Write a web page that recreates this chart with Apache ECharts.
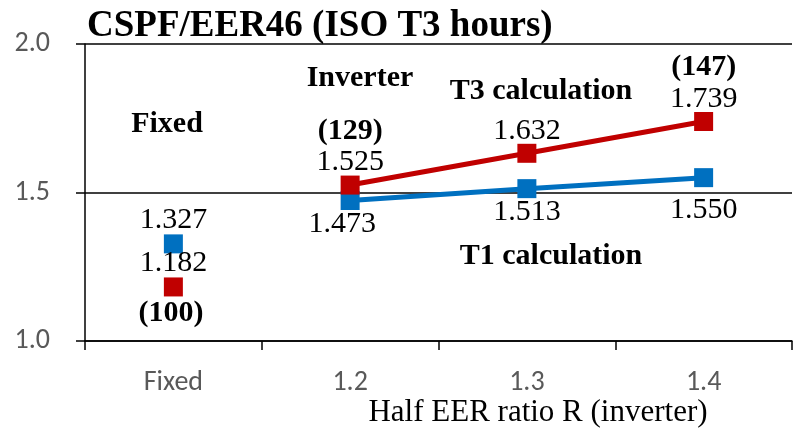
<!DOCTYPE html>
<html>
<head>
<meta charset="utf-8">
<script src="https://cdn.jsdelivr.net/npm/echarts@6/dist/echarts.min.js"></script>
<style>
  html, body { margin: 0; padding: 0; background: #fff; }
  #chart { width: 793px; height: 435px; }
</style>
</head>
<body>
<div id="chart"></div>
<script>
// categories on the x axis
var categories = ['Fixed', '1.2', '1.3', '1.4'];
// y axis ticks
var yTicks = [1.0, 1.5, 2.0];
// T1 calculation (blue)
var t1Fixed = [1.327, '-', '-', '-'];
var t1Inverter = ['-', 1.473, 1.513, 1.550];
// T3 calculation (red)
var t3Fixed = [1.182, '-', '-', '-'];
var t3Inverter = ['-', 1.525, 1.632, 1.739];
// index numbers shown above/below T3 points
var t3Index = ['(100)', '(129)', '', '(147)'];

var BLUE = '#0070C0', RED = '#C00000';
var SERIF = '"Liberation Serif", "Times New Roman", serif';
var SANS = 'Carlito, Lato, sans-serif';

var chart = echarts.init(document.getElementById('chart'));

function valueLabel(pos, dist) {
    return {
        show: true,
        position: pos,
        distance: dist,
        fontFamily: SERIF,
        fontSize: 30,
        lineHeight: 30,
        color: '#000',
        formatter: function (p) { return p.value.toFixed(3); }
    };
}

var t1InvData = t1Inverter.map(function (v, i) {
    if (i === 1) return { value: v, label: { offset: [-8, 0] } };
    if (i === 3) return { value: v, label: { distance: 8 } };
    return v;
});

var option = {
    animation: false,
    title: {
        text: 'CSPF/EER46 (ISO T3 hours)',
        left: 87,
        top: 8,
        padding: 0,
        textStyle: { fontFamily: SERIF, fontSize: 37, fontWeight: 'bold', color: '#000' }
    },
    grid: { left: 85, right: 1, top: 44, bottom: 94 },
    xAxis: {
        type: 'category',
        data: categories,
        boundaryGap: true,
        axisLine: { lineStyle: { color: '#000', width: 1.5 } },
        axisTick: { show: true, length: 9, lineStyle: { color: '#000', width: 1.5 } },
        axisLabel: { fontFamily: SANS, fontSize: 28, color: '#595959', margin: 28 }
    },
    yAxis: {
        type: 'value',
        min: yTicks[0],
        max: yTicks[yTicks.length - 1],
        interval: yTicks[1] - yTicks[0],
        axisLine: { show: true, lineStyle: { color: '#000', width: 1.5 } },
        axisTick: { show: true, length: 9, lineStyle: { color: '#000', width: 1.5 } },
        splitLine: { show: true, lineStyle: { color: '#000', width: 1.5 } },
        axisLabel: {
            fontFamily: SANS, fontSize: 28, color: '#595959', margin: 35,
            formatter: function (v) { return v.toFixed(1); }
        }
    },
    series: [
        {
            name: 'T1 fixed', type: 'line', data: t1Fixed,
            symbol: 'rect', symbolSize: 19, showAllSymbol: true,
            itemStyle: { color: BLUE }, lineStyle: { width: 0 },
            label: valueLabel('top', -1)
        },
        {
            name: 'T1 inverter', type: 'line', data: t1InvData,
            symbol: 'rect', symbolSize: 19, showAllSymbol: true,
            itemStyle: { color: BLUE }, lineStyle: { color: BLUE, width: 5 },
            label: valueLabel('bottom', -1)
        },
        {
            name: 'T3 fixed', type: 'line', data: t3Fixed,
            symbol: 'rect', symbolSize: 19, showAllSymbol: true,
            itemStyle: { color: RED }, lineStyle: { width: 0 },
            label: valueLabel('top', -1)
        },
        {
            name: 'T3 inverter', type: 'line', data: t3Inverter,
            symbol: 'rect', symbolSize: 19, showAllSymbol: true,
            itemStyle: { color: RED }, lineStyle: { color: RED, width: 5 },
            label: {
                show: true,
                position: 'top',
                distance: -2,
                color: '#000',
                formatter: function (p) {
                    var idx = t3Index[p.dataIndex];
                    var val = '{v|' + p.value.toFixed(3) + '}';
                    return idx ? '{b|' + idx + '}\n' + val : val;
                },
                rich: {
                    b: { fontFamily: SERIF, fontSize: 30, fontWeight: 'bold', lineHeight: 33, color: '#000' },
                    v: { fontFamily: SERIF, fontSize: 30, lineHeight: 30, color: '#000' }
                }
            }
        }
    ],
    graphic: [
        { type: 'text', x: 167, y: 124, style: { text: 'Fixed', font: 'bold 30px ' + SERIF, fill: '#000', align: 'center', verticalAlign: 'middle' } },
        { type: 'text', x: 360, y: 78, style: { text: 'Inverter', font: 'bold 30px ' + SERIF, fill: '#000', align: 'center', verticalAlign: 'middle' } },
        { type: 'text', x: 541, y: 91, style: { text: 'T3 calculation', font: 'bold 30px ' + SERIF, fill: '#000', align: 'center', verticalAlign: 'middle' } },
        { type: 'text', x: 551, y: 256, style: { text: 'T1 calculation', font: 'bold 30px ' + SERIF, fill: '#000', align: 'center', verticalAlign: 'middle' } },
        { type: 'text', x: 171, y: 313, style: { text: t3Index[0], font: 'bold 30px ' + SERIF, fill: '#000', align: 'center', verticalAlign: 'middle' } },
        { type: 'text', x: 538, y: 413, style: { text: 'Half EER ratio R (inverter)', font: '31px ' + SERIF, fill: '#000', align: 'center', verticalAlign: 'middle' } }
    ]
};

chart.setOption(option);
</script>
</body>
</html>
